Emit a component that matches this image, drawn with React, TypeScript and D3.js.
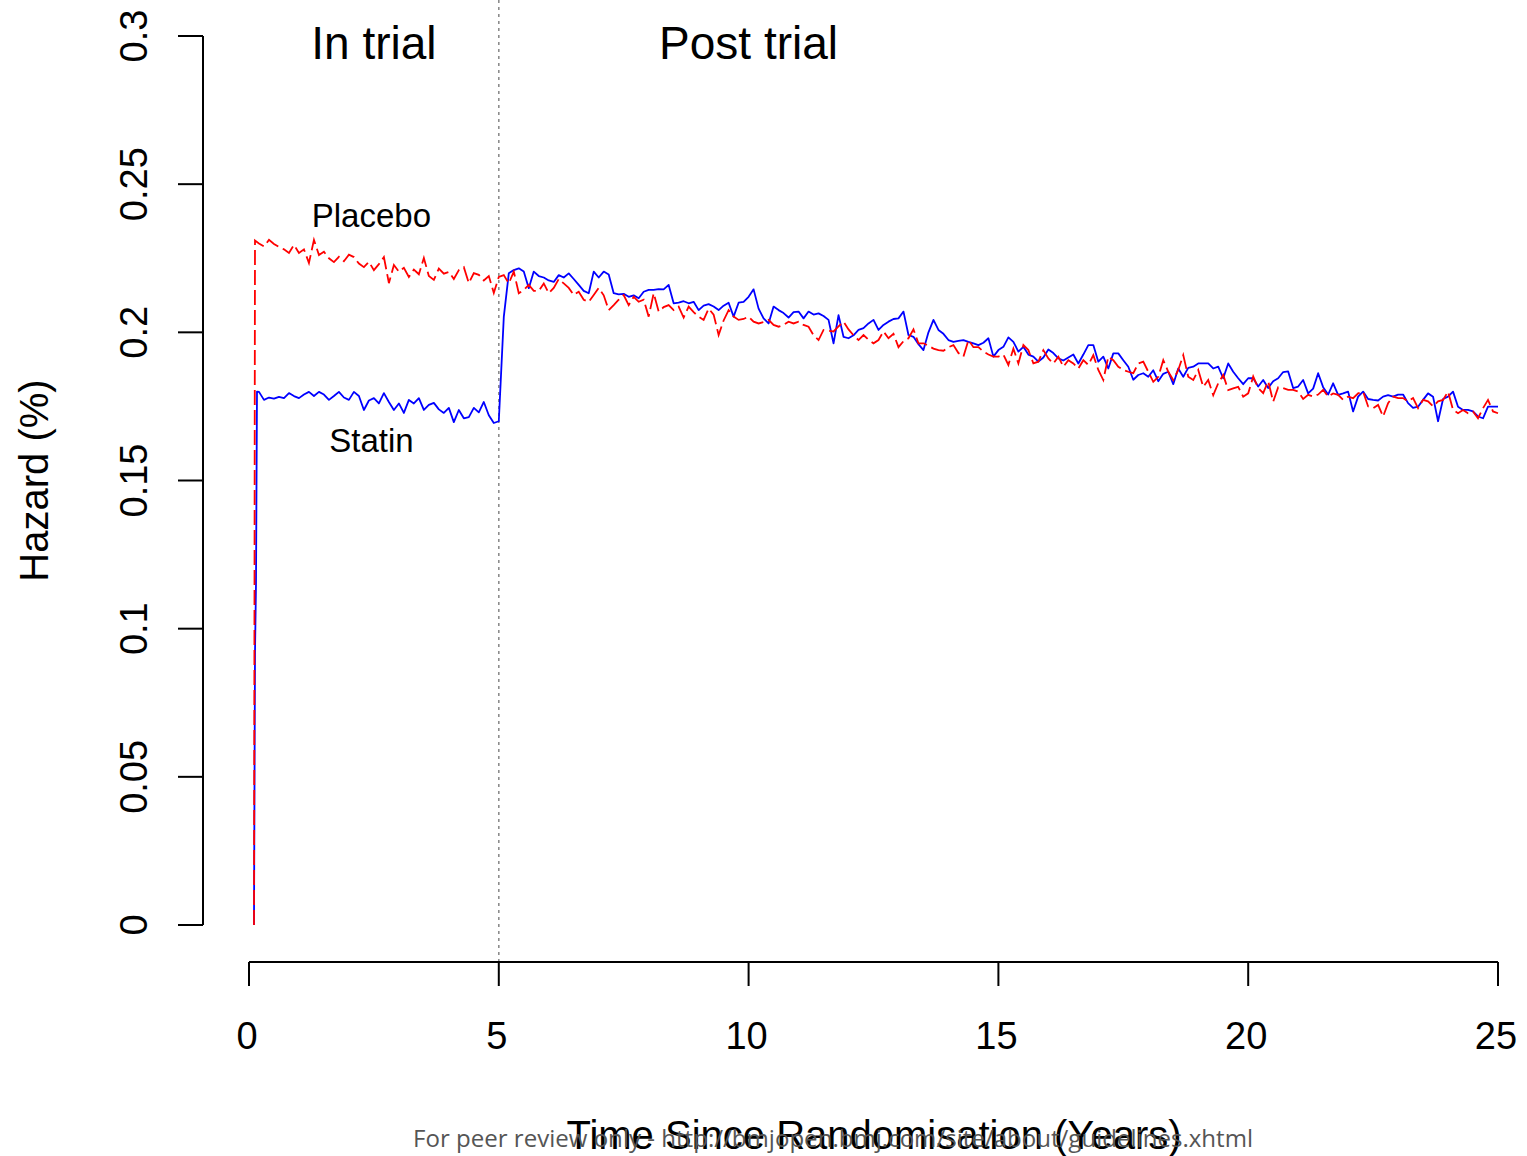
import * as React from 'react';
import * as d3 from 'd3';

// sampling grid of the hazard estimates (years)
const firstYear = 0.2;
const stepYears = 0.1;

// onset of the curves just after randomisation
const placeboOnsetYears = [0.1, 0.12];
const placeboOnset = [0, 0.231];
const statinOnsetYears = [0.1, 0.12, 0.14, 0.16];
const statinOnset = [0, 0.092, 0.115, 0.18];

// hazard (%) from 0.2 to 25.0 years, every 0.1 year
const placebo = [
  0.2300, 0.2290, 0.2312, 0.2298, 0.2288, 0.2280, 0.2268, 0.2295, 0.2268,
  0.2280, 0.2234, 0.2312, 0.2261, 0.2272, 0.2250, 0.2237, 0.2255, 0.2240, 0.2262,
  0.2254, 0.2232, 0.2220, 0.2238, 0.2210, 0.2230, 0.2254, 0.2166, 0.2227, 0.2205,
  0.2218, 0.2187, 0.2212, 0.2196, 0.2251, 0.2190, 0.2177, 0.2215, 0.2198, 0.2204,
  0.2180, 0.2210, 0.2220, 0.2166, 0.2200, 0.2194, 0.2175, 0.2190, 0.2133, 0.2187,
  0.2193, 0.2165, 0.2205, 0.2132, 0.2143, 0.2160, 0.2140, 0.2140, 0.2165, 0.2132,
  0.2150, 0.2180, 0.2165, 0.2150, 0.2126, 0.2137, 0.2110, 0.2103, 0.2126, 0.2150,
  0.2125, 0.2075, 0.2092, 0.2110, 0.2126, 0.2092, 0.2120, 0.2103, 0.2110, 0.2053,
  0.2132, 0.2070, 0.2085, 0.2092, 0.2075, 0.2087, 0.2050, 0.2087, 0.2068, 0.2053,
  0.2042, 0.2080, 0.2060, 0.1991, 0.2040, 0.2075, 0.2053, 0.2042, 0.2045, 0.2053,
  0.2036, 0.2030, 0.2035, 0.2042, 0.2025, 0.2019, 0.2025, 0.2036, 0.2030, 0.2036,
  0.2025, 0.2019, 0.1990, 0.1974, 0.2008, 0.2005, 0.2003, 0.2020, 0.2036, 0.2010,
  0.1990, 0.1974, 0.1991, 0.1975, 0.1963, 0.1974, 0.2003, 0.1980, 0.1995, 0.1950,
  0.1970, 0.1980, 0.2010, 0.1963, 0.1963, 0.1955, 0.1945, 0.1940, 0.1938, 0.1950,
  0.1957, 0.1930, 0.1918, 0.1974, 0.1950, 0.1950, 0.1935, 0.1925, 0.1918, 0.1918,
  0.1925, 0.1890, 0.1945, 0.1895, 0.1957, 0.1940, 0.1895, 0.1901, 0.1940, 0.1912,
  0.1895, 0.1918, 0.1884, 0.1906, 0.1895, 0.1878, 0.1906, 0.1890, 0.1923, 0.1873,
  0.1839, 0.1918, 0.1906, 0.1884, 0.1873, 0.1867, 0.1862, 0.1895, 0.1901, 0.1867,
  0.1833, 0.1850, 0.1906, 0.1867, 0.1839, 0.1873, 0.1923, 0.1850, 0.1839, 0.1873,
  0.1816, 0.1839, 0.1788, 0.1828, 0.1856, 0.1805, 0.1811, 0.1816, 0.1783, 0.1794,
  0.1851, 0.1812, 0.1795, 0.1835, 0.1766, 0.1815, 0.1812, 0.1806, 0.1806, 0.1800,
  0.1775, 0.1789, 0.1783, 0.1790, 0.1806, 0.1783, 0.1794, 0.1789, 0.1772, 0.1783,
  0.1778, 0.1794, 0.1800, 0.1750, 0.1744, 0.1755, 0.1716, 0.1761, 0.1783, 0.1778,
  0.1778, 0.1767, 0.1778, 0.1744, 0.1772, 0.1767, 0.1750, 0.1767, 0.1772, 0.1800,
  0.1738, 0.1727, 0.1738, 0.1727, 0.1733, 0.1710, 0.1744, 0.1772, 0.1733, 0.1727,
];

const statin = [
  0.1799, 0.1772, 0.1780, 0.1776, 0.1782, 0.1778, 0.1795, 0.1785, 0.1778,
  0.1790, 0.1799, 0.1785, 0.1799, 0.1790, 0.1772, 0.1785, 0.1799, 0.1780, 0.1772,
  0.1799, 0.1785, 0.1738, 0.1770, 0.1778, 0.1760, 0.1795, 0.1765, 0.1738, 0.1760,
  0.1728, 0.1772, 0.1760, 0.1778, 0.1738, 0.1755, 0.1762, 0.1740, 0.1728, 0.1745,
  0.1697, 0.1738, 0.1710, 0.1714, 0.1745, 0.1730, 0.1765, 0.1720, 0.1694, 0.1700,
  0.2052, 0.2199, 0.2210, 0.2216, 0.2205, 0.2149, 0.2205, 0.2190, 0.2185, 0.2175,
  0.2170, 0.2193, 0.2185, 0.2199, 0.2180, 0.2160, 0.2140, 0.2132, 0.2205, 0.2185,
  0.2205, 0.2195, 0.2132, 0.2128, 0.2130, 0.2120, 0.2125, 0.2115, 0.2137, 0.2143,
  0.2143, 0.2146, 0.2145, 0.2160, 0.2098, 0.2100, 0.2105, 0.2098, 0.2103, 0.2075,
  0.2090, 0.2095, 0.2087, 0.2075, 0.2090, 0.2100, 0.2053, 0.2100, 0.2103, 0.2120,
  0.2145, 0.2080, 0.2047, 0.2030, 0.2087, 0.2075, 0.2065, 0.2050, 0.2068, 0.2070,
  0.2047, 0.2070, 0.2060, 0.2064, 0.2055, 0.2042, 0.1963, 0.2058, 0.1985, 0.1980,
  0.1990, 0.2008, 0.2014, 0.2030, 0.2042, 0.2008, 0.2025, 0.2036, 0.2045, 0.2047,
  0.2070, 0.1991, 0.1985, 0.1960, 0.1940, 0.2000, 0.2042, 0.2008, 0.1995, 0.1974,
  0.1968, 0.1971, 0.1974, 0.1968, 0.1963, 0.1957, 0.1965, 0.1980, 0.1918, 0.1940,
  0.1951, 0.1983, 0.1968, 0.1935, 0.1951, 0.1925, 0.1918, 0.1901, 0.1915, 0.1942,
  0.1930, 0.1912, 0.1905, 0.1915, 0.1925, 0.1895, 0.1925, 0.1957, 0.1957, 0.1901,
  0.1918, 0.1878, 0.1929, 0.1929, 0.1906, 0.1884, 0.1840, 0.1856, 0.1862, 0.1850,
  0.1872, 0.1835, 0.1860, 0.1867, 0.1825, 0.1878, 0.1850, 0.1880, 0.1884, 0.1895,
  0.1895, 0.1895, 0.1878, 0.1884, 0.1845, 0.1895, 0.1867, 0.1845, 0.1825, 0.1845,
  0.1845, 0.1817, 0.1839, 0.1812, 0.1835, 0.1845, 0.1866, 0.1868, 0.1812, 0.1817,
  0.1839, 0.1794, 0.1810, 0.1862, 0.1815, 0.1790, 0.1828, 0.1789, 0.1794, 0.1800,
  0.1733, 0.1783, 0.1800, 0.1775, 0.1772, 0.1770, 0.1783, 0.1788, 0.1783, 0.1790,
  0.1790, 0.1761, 0.1745, 0.1749, 0.1772, 0.1794, 0.1783, 0.1700, 0.1775, 0.1783,
  0.1800, 0.1749, 0.1738, 0.1738, 0.1733, 0.1716, 0.1710, 0.1749, 0.1749, 0.1749,
];

const xTicks = [0, 5, 10, 15, 20, 25];
const yTicks = [0, 0.05, 0.1, 0.15, 0.2, 0.25, 0.3];
const yTickLabels = ['0', '0.05', '0.1', '0.15', '0.2', '0.25', '0.3'];
const trialEnd = 5;

const W = 1527;
const H = 1156;
const font = '"Liberation Sans", Arial, sans-serif';

export default function App() {
  const x = d3.scaleLinear().domain([0, 25]).range([249, 1498]);
  const y = d3.scaleLinear().domain([0, 0.3]).range([925, 36]);

  const line = d3
    .line<[number, number]>()
    .x(d => x(d[0]))
    .y(d => y(d[1]));

  const toPts = (onsetYears: number[], onset: number[], vals: number[]) =>
    onsetYears
      .map((t, i): [number, number] => [t, onset[i]])
      .concat(vals.map((v, i): [number, number] => [firstYear + i * stepYears, v]));

  const placeboPts = toPts(placeboOnsetYears, placeboOnset, placebo);
  const statinPts = toPts(statinOnsetYears, statinOnset, statin);

  const axisX = 203;
  const axisY = 962;

  return (
    <svg width={W} height={H} style={{ position: 'absolute', left: 0, top: 0, background: '#fff' }}>
      <rect width={W} height={H} fill="#fff" />

      {/* end of trial marker */}
      <line
        x1={x(trialEnd)}
        x2={x(trialEnd)}
        y1={0}
        y2={axisY}
        stroke="#8c8c8c"
        strokeWidth={1.6}
        strokeDasharray="3 4"
      />

      {/* y axis */}
      <g fontFamily={font} fontSize={38} fill="#000">
        <line x1={axisX} x2={axisX} y1={y(0)} y2={y(0.3)} stroke="#000" strokeWidth={2} />
        {yTicks.map((t, i) => (
          <g key={t}>
            <line x1={axisX - 25} x2={axisX} y1={y(t)} y2={y(t)} stroke="#000" strokeWidth={2} />
            <text transform={`translate(147,${y(t)}) rotate(-90)`} textAnchor="middle">
              {yTickLabels[i]}
            </text>
          </g>
        ))}
        <text transform={`translate(48,${y(0.15)}) rotate(-90)`} textAnchor="middle" fontSize={40}>
          Hazard (%)
        </text>
      </g>

      {/* x axis */}
      <g fontFamily={font} fontSize={38} fill="#000">
        <line x1={x(0)} x2={x(25)} y1={axisY} y2={axisY} stroke="#000" strokeWidth={2} />
        {xTicks.map(t => (
          <g key={t}>
            <line x1={x(t)} x2={x(t)} y1={axisY} y2={axisY + 24} stroke="#000" strokeWidth={2} />
            <text x={x(t) - 2} y={1049} textAnchor="middle">
              {t}
            </text>
          </g>
        ))}
        <text x={874} y={1149} textAnchor="middle" fontSize={40}>
          Time Since Randomisation (Years)
        </text>
      </g>

      {/* hazard curves */}
      <path d={line(statinPts) || ''} fill="none" stroke="#0000ff" strokeWidth={1.8} strokeLinejoin="round" />
      <path
        d={line(placeboPts) || ''}
        fill="none"
        stroke="#ff0000"
        strokeWidth={1.8}
        strokeDasharray="15 5"
      />

      {/* annotations */}
      <g fontFamily={font} fill="#000">
        <text x={x(2.5)} y={59} textAnchor="middle" fontSize={46}>
          In trial
        </text>
        <text x={x(10)} y={59} textAnchor="middle" fontSize={46}>
          Post trial
        </text>
        <text x={x(2.45)} y={y(0.2395) + 12} textAnchor="middle" fontSize={33}>
          Placebo
        </text>
        <text x={x(2.45)} y={y(0.1637) + 12} textAnchor="middle" fontSize={33}>
          Statin
        </text>
      </g>

      <text
        x={413}
        y={1147}
        fontFamily='"Open Sans", "Noto Sans", sans-serif'
        fontSize={23}
        fill="#555"
        textLength={840}
        lengthAdjust="spacingAndGlyphs"
      >
        For peer review only - http://bmjopen.bmj.com/site/about/guidelines.xhtml
      </text>
    </svg>
  );
}
